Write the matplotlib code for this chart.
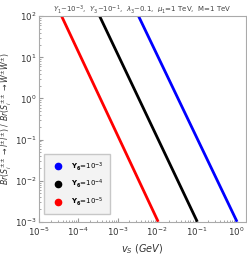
import matplotlib
matplotlib.use('Agg')
import matplotlib.pyplot as plt

# endpoints of each line (log-log straight lines)
vs_blue = [3.4e-3, 1.07]
vs_black = [3.5e-4, 0.105]
vs_red = [3.8e-5, 0.0107]
ratio = [1e2, 1e-3]

labels = [r'$\mathbf{Y_6}$=10$^{-3}$', r'$\mathbf{Y_6}$=10$^{-4}$', r'$\mathbf{Y_6}$=10$^{-5}$']
colors = ['#0000ff', '#000000', '#ff0000']

plt.rcParams['font.family'] = 'DejaVu Sans'
plt.rcParams['mathtext.fontset'] = 'dejavusans'

fig = plt.figure(figsize=(2.47, 2.57), dpi=100)
ax = fig.add_axes([0.157, 0.137, 0.838, 0.80])

for vs, c in zip([vs_blue, vs_black, vs_red], colors):
    ax.plot(vs, ratio, color=c, lw=2.0, solid_capstyle='butt')

ax.set_xscale('log')
ax.set_yscale('log')
ax.set_xlim(1e-5, 10**0.25)
ax.set_ylim(1e-3, 1e2)
ax.set_xticks([1e-5, 1e-4, 1e-3, 1e-2, 1e-1, 1e0])
ax.set_yticks([1e-3, 1e-2, 1e-1, 1e0, 1e1, 1e2])
ax.tick_params(which='both', direction='in', labelsize=6.2, colors='#999999',
               labelcolor='#333333', length=3, pad=2)
ax.tick_params(axis='x', pad=3)
ax.tick_params(which='minor', length=1.5)
for s in ax.spines.values():
    s.set_color('#aaaaaa')

ax.set_xlabel(r'$v_S\ (GeV)$', fontsize=7, color='#333333', labelpad=3)
ax.set_ylabel(r'$Br(S_i^{\pm\pm} \rightarrow l^{\pm}l^{\pm})\ /\ Br(S_i^{\pm\pm} \rightarrow W^{\pm}W^{\pm})$',
              fontsize=5.6, color='#333333')
ax.yaxis.set_label_coords(-0.12, 0.5)
ax.set_title(r'$Y_1$~10$^{-3}$,  $Y_3$~10$^{-1}$,  $\lambda_3$~0.1,  $\mu_1$=1 TeV,  M=1 TeV',
             fontsize=5, color='#444444', pad=3)

handles = [plt.Line2D([], [], ls='', marker='o', color=c, markersize=4.5) for c in colors]
leg = ax.legend(handles, labels, loc='lower left', fontsize=5, frameon=True,
                fancybox=False, handletextpad=0.9, borderpad=0.9, labelspacing=0.75,
                bbox_to_anchor=(0.01, 0.02))
leg.get_frame().set_facecolor('#f0f0f0')
leg.get_frame().set_edgecolor('#bbbbbb')

fig.savefig('out.png', dpi=100)
